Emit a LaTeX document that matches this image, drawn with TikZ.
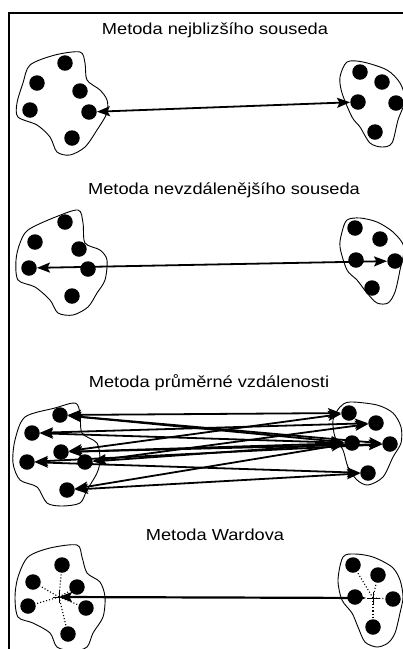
\documentclass[tikz,border=0pt]{standalone}
\usepackage{fontspec}
\setmainfont{Liberation Sans}
\usetikzlibrary{arrows.meta}

\tikzset{
  dot/.style={circle,fill=black,inner sep=0pt,minimum size=15.5pt},
  blob/.style={line width=0.9pt},
  tip/.style={Stealth[length=13pt,width=10pt,inset=2.5pt]},
  link/.style={line width=1.8pt,{Stealth[length=13pt,width=10pt,inset=2.5pt]}-{Stealth[length=13pt,width=10pt,inset=2.5pt]}},
  title/.style={font=\fontsize{16}{19}\selectfont,xscale=1.14},
  spoke/.style={dotted,line width=1.1pt}
}

\begin{document}
\begin{tikzpicture}[x=1pt,y=-1pt]
    \useasboundingbox (0,0) rectangle (403,649);
    \draw[line width=2pt] (404,13) -- (9,13) -- (9,650);

    % nejblizsi soused
    \node[title] (t1) at (215,30) {Metoda nejblizšího souseda};
    \draw[blob] plot[smooth cycle] coordinates {(30,65) (55,55) (80,52) (85,63) (87,80) (100,90) (107,100) (107,113) (97,130) (85,147) (70,155) (57,152) (50,137) (37,125) (18,117) (17,103) (23,83)};
    \draw[blob] plot[smooth cycle] coordinates {(347,62) (363,62) (387,70) (400,83) (405,100) (398,120) (392,143) (382,147) (370,143) (360,127) (352,117) (342,93) (340,77)};
    \foreach \n/\x/\y in {a1/65/63, a2/37/83, a3/80/91, a4/30/110, a5/89/112, a6/72/138,
                          b1/360/72, b2/382/82, b3/358/102, b4/396/103, b5/375/132}
        \node[dot] (\n) at (\x,\y) {};
    \draw[link] (a5) -- (b3);

    % nejvzdalenejsi soused
    \node[title] (t2) at (224,190) {Metoda nevzdálenějšího souseda};
    \draw[blob] plot[smooth cycle] coordinates {(28,230) (53,218) (78,210) (83,223) (85,243) (100,250) (107,260) (105,280) (97,293) (88,307) (73,315) (58,313) (50,300) (35,287) (18,280) (16,260) (20,243)};
    \draw[blob] plot[smooth cycle] coordinates {(347,220) (360,218) (377,222) (393,232) (404,247) (400,270) (395,292) (388,303) (377,303) (367,293) (357,280) (347,270) (340,247) (342,232)};
    \foreach \n/\x/\y in {c1/65/222, c2/35/242, c3/79/249, c4/29/268, c5/88/269, c6/72/296,
                          d1/355/228, d2/380/239, d3/356/260, d4/395/261, d5/372/288}
        \node[dot] (\n) at (\x,\y) {};
    \draw[link] (c4) -- (d4);

    % prumerna vzdalenost
    \node[title] (t3) at (209,383) {Metoda průměrné vzdálenosti};
    \draw[blob] plot[smooth cycle] coordinates {(25,417) (55,408) (75,403) (80,413) (82,433) (97,443) (100,460) (97,473) (87,490) (80,503) (62,506) (47,503) (37,487) (20,480) (13,463) (15,440)};
    \draw[blob] plot[smooth cycle] coordinates {(340,407) (350,402) (377,405) (393,413) (401,427) (401,443) (393,457) (383,477) (368,485) (357,480) (348,467) (343,450) (335,437) (333,420)};
    \foreach \n/\x/\y in {e1/60/415, e2/32/433, e3/61/452, e4/27/462, e5/85/462, e6/67/490,
                          f1/349/413, f2/376/423, f3/352/443, f4/390/444, f5/368/473}
        \node[dot] (\n) at (\x,\y) {};
    \foreach \p/\q in {e1/f1, e1/f3, e1/f4, e2/f2, e2/f3, e3/f1, e3/f3, e3/f4,
                       e4/f4, e4/f5, e5/f2, e5/f3, e6/f3, e6/f5}
        \draw[link] (\p) -- (\q);

    % Ward
    \node[title] (t4) at (215,535) {Metoda Wardova};
    \draw[blob] plot[smooth cycle] coordinates {(28,557) (50,548) (77,545) (82,557) (87,573) (100,582) (105,597) (103,617) (93,633) (87,647) (73,651) (57,647) (50,633) (33,623) (18,617) (15,597) (18,577)};
    \draw[blob] plot[smooth cycle] coordinates {(343,557) (355,554) (373,557) (392,567) (400,580) (403,597) (400,613) (395,633) (388,643) (377,647) (365,642) (358,627) (352,613) (342,600) (338,580)};
    \foreach \n/\x/\y in {g1/62/565, g2/33/582, g3/77/587, g4/28/606, g5/86/608, g6/68/634,
                          h1/353/565, h2/378/575, h3/355/597, h4/393/599, h5/373/627}
        \node[dot] (\n) at (\x,\y) {};
    \coordinate (gc) at (59,597);
    \coordinate (hc) at (373,598);
    \foreach \n in {g1,g2,g3,g4,g5,g6}
        \draw[spoke] (gc) -- (\n);
    \foreach \n in {h1,h2,h4,h5}
        \draw[spoke] (hc) -- (\n);
    \draw[line width=0.9pt] ([xshift=-6pt]gc) -- ([xshift=6pt]gc) ([yshift=-6pt]gc) -- ([yshift=6pt]gc);
    \draw[line width=0.9pt] ([xshift=-6pt]hc) -- ([xshift=6pt]hc) ([yshift=-6pt]hc) -- ([yshift=6pt]hc);
    \draw[link,line width=2.2pt,shorten >=7pt] (gc) -- (hc);
\end{tikzpicture}
\end{document}
